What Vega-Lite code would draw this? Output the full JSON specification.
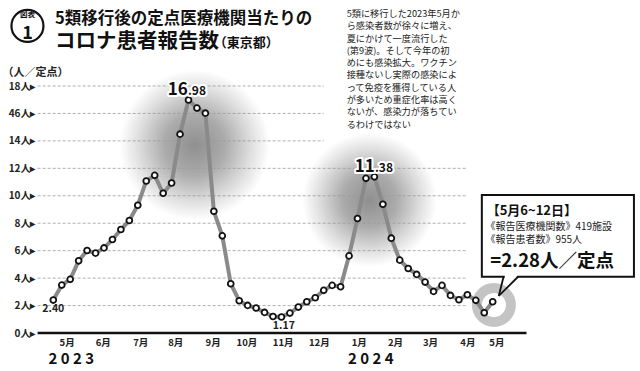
{
  "$schema": "https://vega.github.io/schema/vega-lite/v6.json",
  "width": 600,
  "height": 247,
  "autosize": {"type": "none"},
  "padding": {"left": 36, "top": 86, "right": 4, "bottom": 38},
  "background": "white",
  "config": {"view": {"stroke": null}, "font": "Noto Sans CJK JP", "text": {"font": "Noto Sans CJK JP"}},
  "datasets": {
    "weekly": [
      {"date": "2023-05-08", "value": 2.40},
      {"date": "2023-05-15", "value": 3.49},
      {"date": "2023-05-22", "value": 3.91},
      {"date": "2023-05-29", "value": 5.26},
      {"date": "2023-06-05", "value": 6.01},
      {"date": "2023-06-12", "value": 5.82},
      {"date": "2023-06-19", "value": 6.20},
      {"date": "2023-06-26", "value": 6.81},
      {"date": "2023-07-03", "value": 7.54},
      {"date": "2023-07-10", "value": 8.20},
      {"date": "2023-07-17", "value": 9.31},
      {"date": "2023-07-24", "value": 11.08},
      {"date": "2023-07-31", "value": 11.49},
      {"date": "2023-08-07", "value": 10.18},
      {"date": "2023-08-14", "value": 10.93},
      {"date": "2023-08-21", "value": 14.49},
      {"date": "2023-08-28", "value": 16.98},
      {"date": "2023-09-04", "value": 16.39},
      {"date": "2023-09-11", "value": 16.02},
      {"date": "2023-09-18", "value": 8.87},
      {"date": "2023-09-25", "value": 7.08},
      {"date": "2023-10-02", "value": 3.59},
      {"date": "2023-10-09", "value": 2.35},
      {"date": "2023-10-16", "value": 2.01},
      {"date": "2023-10-23", "value": 1.82},
      {"date": "2023-10-30", "value": 1.50},
      {"date": "2023-11-06", "value": 1.20},
      {"date": "2023-11-13", "value": 1.17},
      {"date": "2023-11-20", "value": 1.45},
      {"date": "2023-11-27", "value": 1.89},
      {"date": "2023-12-04", "value": 2.28},
      {"date": "2023-12-11", "value": 2.57},
      {"date": "2023-12-18", "value": 3.11},
      {"date": "2023-12-25", "value": 3.47},
      {"date": "2024-01-01", "value": 3.37},
      {"date": "2024-01-08", "value": 5.62},
      {"date": "2024-01-15", "value": 8.34},
      {"date": "2024-01-22", "value": 11.27},
      {"date": "2024-01-29", "value": 11.38},
      {"date": "2024-02-05", "value": 9.38},
      {"date": "2024-02-12", "value": 6.91},
      {"date": "2024-02-19", "value": 5.31},
      {"date": "2024-02-26", "value": 4.70},
      {"date": "2024-03-04", "value": 4.27},
      {"date": "2024-03-11", "value": 3.71},
      {"date": "2024-03-18", "value": 3.03},
      {"date": "2024-03-25", "value": 3.47},
      {"date": "2024-04-01", "value": 2.74},
      {"date": "2024-04-08", "value": 2.42},
      {"date": "2024-04-15", "value": 2.79},
      {"date": "2024-04-22", "value": 2.38},
      {"date": "2024-04-29", "value": 1.48},
      {"date": "2024-05-06", "value": 2.28}
    ]
  },
  "encoding": {
    "x": {
      "field": "date",
      "type": "temporal",
      "scale": {
        "type": "utc",
        "nice": false,
        "domain": [
          {"year": 2023, "month": 4, "date": 23, "hours": 16, "utc": true},
          {"year": 2024, "month": 9, "date": 1, "hours": 17, "utc": true}
        ]
      },
      "axis": {
        "title": null,
        "domain": false,
        "ticks": false,
        "grid": false,
        "labelExpr": "utcFormat(datum.value, '%-m') + '月'",
        "labelFontSize": 9.5,
        "labelFontWeight": "bold",
        "labelColor": "#222222",
        "labelPadding": 4,
        "labelOverlap": false,
        "labelFlush": false,
        "values": [
          {"year": 2023, "month": 5, "date": 19, "utc": true},
          {"year": 2023, "month": 6, "date": 18, "utc": true},
          {"year": 2023, "month": 7, "date": 19, "utc": true},
          {"year": 2023, "month": 8, "date": 17, "utc": true},
          {"year": 2023, "month": 9, "date": 17, "utc": true},
          {"year": 2023, "month": 10, "date": 15, "utc": true},
          {"year": 2023, "month": 11, "date": 14, "utc": true},
          {"year": 2023, "month": 12, "date": 14, "utc": true},
          {"year": 2024, "month": 1, "date": 16, "utc": true},
          {"year": 2024, "month": 2, "date": 15, "utc": true},
          {"year": 2024, "month": 3, "date": 15, "utc": true},
          {"year": 2024, "month": 4, "date": 15, "utc": true},
          {"year": 2024, "month": 5, "date": 9, "utc": true}
        ]
      }
    },
    "y": {
      "field": "value",
      "type": "quantitative",
      "scale": {"domain": [0, 18], "nice": false},
      "axis": {
        "title": "（人／定点）",
        "titleAngle": 0,
        "titleAlign": "left",
        "titleBaseline": "middle",
        "titleX": -34,
        "titleY": -14,
        "titleFontSize": 11,
        "titleFontWeight": "bold",
        "titleColor": "#222222",
        "values": [0, 2, 4, 6, 8, 10, 12, 14, 16, 18],
        "labelExpr": "(datum.value == 16 ? '46' : datum.value) + '人▸'",
        "labelFontSize": 10,
        "labelFontWeight": "bold",
        "labelColor": "#222222",
        "labelPadding": 1,
        "domain": false,
        "ticks": false,
        "grid": false
      }
    }
  },
  "layer": [
    {
      "data": {"values": [{"date": "2023-09-02", "value": 13.7}]},
      "mark": {
        "type": "point", "shape": "circle", "filled": true, "opacity": 1, "size": 22500, "strokeWidth": 0,
        "fill": {"gradient": "radial", "x1": 0.5, "y1": 0.5, "x2": 0.5, "y2": 0.5, "r1": 0, "r2": 0.5,
          "stops": [{"offset": 0, "color": "#8f8f8f"}, {"offset": 0.4, "color": "#ababab"}, {"offset": 0.75, "color": "#dedede"}, {"offset": 1, "color": "#ffffff"}]}
      }
    },
    {
      "data": {"values": [{"date": "2024-01-25", "value": 9.69}]},
      "mark": {
        "type": "point", "shape": "circle", "filled": true, "opacity": 1, "size": 18000, "strokeWidth": 0,
        "fill": {"gradient": "radial", "x1": 0.5, "y1": 0.5, "x2": 0.5, "y2": 0.5, "r1": 0, "r2": 0.5,
          "stops": [{"offset": 0, "color": "#8f8f8f"}, {"offset": 0.4, "color": "#ababab"}, {"offset": 0.75, "color": "#dedede"}, {"offset": 1, "color": "#ffffff"}]}
      }
    },
    {
      "data": {"values": [
        {"value": 2, "date": "2023-04-25", "end": "2024-04-15"},
        {"value": 4, "date": "2023-04-25", "end": "2024-04-15"},
        {"value": 6, "date": "2023-04-25", "end": "2024-04-15"},
        {"value": 8, "date": "2023-04-25", "end": "2024-04-15"},
        {"value": 10, "date": "2023-04-25", "end": "2024-04-15"},
        {"value": 12, "date": "2023-04-25", "end": "2024-04-15"},
        {"value": 14, "date": "2023-04-25", "end": "2023-12-18"},
        {"value": 16, "date": "2023-04-25", "end": "2023-12-18"},
        {"value": 18, "date": "2023-04-25", "end": "2023-12-18"}
      ]},
      "mark": {"type": "rule", "color": "#9a9a9a", "strokeWidth": 0.8, "strokeDash": [3, 2]},
      "encoding": {"x2": {"field": "end"}}
    },
    {
      "data": {"values": [{"date": "2023-04-25", "end": "2024-06-03", "value": 0}]},
      "mark": {"type": "rule", "color": "#111111", "strokeWidth": 2.5},
      "encoding": {"x2": {"field": "end"}}
    },
    {
      "data": {"values": [{"date": "2024-05-07", "value": 2.04}]},
      "mark": {"type": "point", "shape": "circle", "filled": false, "opacity": 1, "size": 1156, "stroke": "#c4c4c4", "strokeWidth": 10}
    },
    {
      "data": {"name": "weekly"},
      "mark": {"type": "line", "color": "#8a8a8a", "strokeWidth": 4}
    },
    {
      "data": {"name": "weekly"},
      "mark": {"type": "point", "shape": "circle", "filled": true, "fill": "white", "stroke": "#111111", "strokeWidth": 1.8, "size": 34, "opacity": 1}
    },
    {
      "data": {"values": [
        {"date": "2023-05-08", "value": 1.75, "label": "2.40"},
        {"date": "2023-11-15", "value": 0.51, "label": "1.17"}
      ]},
      "mark": {"type": "text", "fontSize": 10.5, "fontWeight": "bold", "color": "#222222", "align": "center", "baseline": "middle"},
      "encoding": {"text": {"field": "label"}}
    },
    {
      "data": {"values": [
        {"date": "2023-08-27T12:00:00Z", "value": 17.31, "label": "16"},
        {"date": "2024-01-29T10:00:00Z", "value": 11.76, "label": "11"}
      ]},
      "mark": {"type": "text", "fontSize": 17, "fontWeight": "bold", "fill": "white", "stroke": "white", "strokeWidth": 4, "strokeJoin": "round", "align": "right", "baseline": "alphabetic"},
      "encoding": {"text": {"field": "label"}}
    },
    {
      "data": {"values": [
        {"date": "2023-08-27T12:00:00Z", "value": 17.31, "label": ".98"},
        {"date": "2024-01-29T10:00:00Z", "value": 11.76, "label": ".38"}
      ]},
      "mark": {"type": "text", "fontSize": 12, "fontWeight": "bold", "fill": "white", "stroke": "white", "strokeWidth": 4, "strokeJoin": "round", "align": "left", "baseline": "alphabetic"},
      "encoding": {"text": {"field": "label"}}
    },
    {
      "data": {"values": [
        {"date": "2023-08-27T12:00:00Z", "value": 17.31, "label": "16"},
        {"date": "2024-01-29T10:00:00Z", "value": 11.76, "label": "11"}
      ]},
      "mark": {"type": "text", "fontSize": 17, "fontWeight": "bold", "color": "#111111", "align": "right", "baseline": "alphabetic"},
      "encoding": {"text": {"field": "label"}}
    },
    {
      "data": {"values": [
        {"date": "2023-08-27T12:00:00Z", "value": 17.31, "label": ".98"},
        {"date": "2024-01-29T10:00:00Z", "value": 11.76, "label": ".38"}
      ]},
      "mark": {"type": "text", "fontSize": 12, "fontWeight": "bold", "color": "#111111", "align": "left", "baseline": "alphabetic"},
      "encoding": {"text": {"field": "label"}}
    },
    {
      "data": {"values": [{"date": "2024-04-27", "end": "2024-08-31", "value": 10.06, "value2": 4.10}]},
      "mark": {"type": "rect", "fill": "white", "stroke": "#111111", "strokeWidth": 2},
      "encoding": {"x2": {"field": "end"}, "y2": {"field": "value2"}}
    },
    {
      "data": {"values": [{"date": "2024-05-16", "end": "2024-05-26", "value": 4.10}]},
      "mark": {"type": "rule", "color": "white", "strokeWidth": 3.5},
      "encoding": {"x2": {"field": "end"}}
    },
    {
      "data": {"values": [
        {"date": "2024-05-15", "value": 4.10, "end": "2024-05-11", "value2": 2.70},
        {"date": "2024-05-27", "value": 4.10, "end": "2024-05-11", "value2": 2.70}
      ]},
      "mark": {"type": "rule", "color": "#111111", "strokeWidth": 1.8},
      "encoding": {"x2": {"field": "end"}, "y2": {"field": "value2"}}
    },
    {
      "data": {"values": [{"date": "2024-05-01", "value": 8.88, "label": "【5月6~12日】"}]},
      "mark": {"type": "text", "fontSize": 13, "fontWeight": "bold", "color": "#111111", "align": "left", "baseline": "middle"},
      "encoding": {"text": {"field": "label"}}
    },
    {
      "data": {"values": [
        {"date": "2024-04-30", "value": 7.74, "label": "《報告医療機関数》419施設"},
        {"date": "2024-04-30", "value": 6.76, "label": "《報告患者数》955人"}
      ]},
      "mark": {"type": "text", "fontSize": 10, "color": "#222222", "align": "left", "baseline": "middle"},
      "encoding": {"text": {"field": "label"}}
    },
    {
      "data": {"values": [{"date": "2024-05-04", "value": 5.25, "label": "=2.28人／定点"}]},
      "mark": {"type": "text", "fontSize": 18.5, "fontWeight": "bold", "color": "#111111", "align": "left", "baseline": "middle"},
      "encoding": {"text": {"field": "label"}}
    },
    {
      "data": {"values": [{"date": "2023-04-16T14:00:00Z", "value": 22.38}]},
      "mark": {"type": "point", "shape": "circle", "filled": true, "fill": "white", "stroke": "#111111", "strokeWidth": 2.2, "size": 1024, "opacity": 1}
    },
    {
      "data": {"values": [{"date": "2023-04-16T14:00:00Z", "value": 23.15, "label": "図表"}]},
      "mark": {"type": "text", "fontSize": 7.5, "fontWeight": "bold", "color": "#111111", "align": "center", "baseline": "middle"},
      "encoding": {"text": {"field": "label"}}
    },
    {
      "data": {"values": [{"date": "2023-04-16T14:00:00Z", "value": 21.78, "label": "1"}]},
      "mark": {"type": "text", "fontSize": 18, "fontWeight": "bold", "color": "#111111", "align": "center", "baseline": "middle"},
      "encoding": {"text": {"field": "label"}}
    },
    {
      "data": {"values": [{"date": "2023-05-09T10:00:00Z", "value": 22.9, "label": "5類移行後の定点医療機関当たりの"}]},
      "mark": {"type": "text", "fontSize": 16.5, "fontWeight": "bold", "color": "#111111", "align": "left", "baseline": "middle"},
      "encoding": {"text": {"field": "label"}}
    },
    {
      "data": {"values": [{"date": "2023-05-09T10:00:00Z", "value": 21.2, "label": "コロナ患者報告数"}]},
      "mark": {"type": "text", "fontSize": 20.5, "fontWeight": "bold", "color": "#111111", "align": "left", "baseline": "middle"},
      "encoding": {"text": {"field": "label"}}
    },
    {
      "data": {"values": [{"date": "2023-09-18", "value": 21.1, "label": "（東京都）"}]},
      "mark": {"type": "text", "fontSize": 13, "fontWeight": "bold", "color": "#111111", "align": "left", "baseline": "middle"},
      "encoding": {"text": {"field": "label"}}
    },
    {
      "data": {"values": [{"date": "2024-01-06", "value": 23.54, "label": "5類に移行した2023年5月か\nら感染者数が徐々に増え、\n夏にかけて一度流行した\n(第9波)。そして今年の初\nめにも感染拡大。ワクチン\n接種ないし実際の感染によ\nって免疫を獲得している人\nが多いため重症化率は高く\nないが、感染力が落ちてい\nるわけではない"}]},
      "mark": {"type": "text", "fontSize": 9.2, "lineHeight": 12.3, "lineBreak": "\n", "color": "#222222", "align": "left", "baseline": "top"},
      "encoding": {"text": {"field": "label"}}
    },
    {
      "data": {"values": [
        {"date": "2023-05-23", "value": -1.88, "label": "2 0 2 3"},
        {"date": "2024-01-26", "value": -1.88, "label": "2 0 2 4"}
      ]},
      "mark": {"type": "text", "fontSize": 15, "fontWeight": "bold", "color": "#111111", "align": "center", "baseline": "middle"},
      "encoding": {"text": {"field": "label"}}
    }
  ]
}
